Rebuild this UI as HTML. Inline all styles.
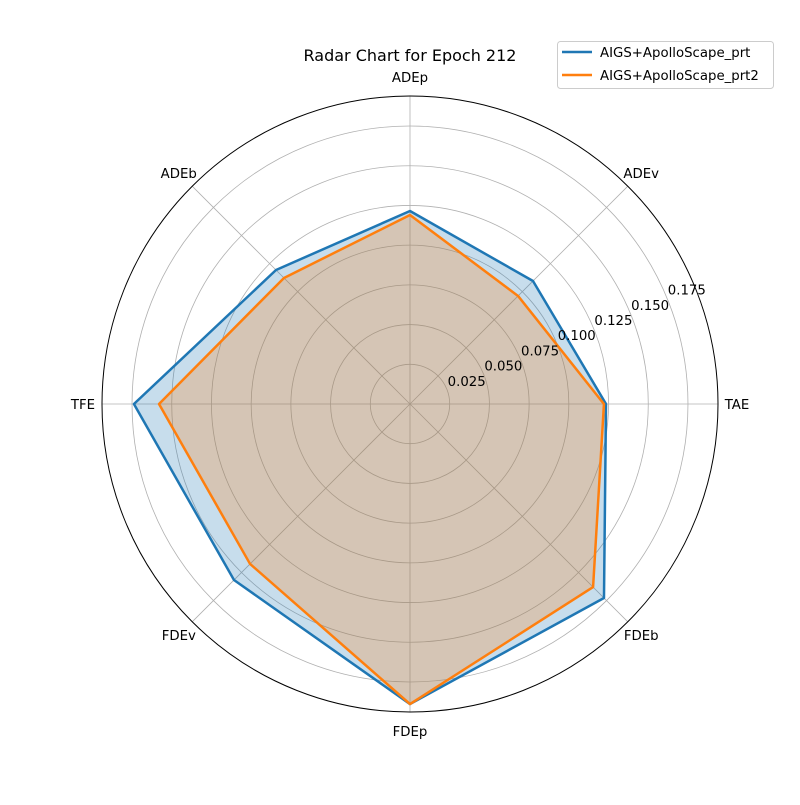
<!DOCTYPE html>
<html><head><meta charset="utf-8"><style>
body{margin:0;background:#fff}
svg{font-family:"DejaVu Sans","Liberation Sans",sans-serif}
</style></head><body>
<svg id="chart" width="800" height="800" viewBox="0 0 800 800" xmlns="http://www.w3.org/2000/svg">
<rect width="800" height="800" fill="#fff"/>
<text x="410" y="61" font-size="16" text-anchor="middle">Radar Chart for Epoch 212</text>
<g id="grid"></g>
<g id="series"></g>
<g id="labels"></g>
<g>
<rect x="557.5" y="41.5" width="216" height="47" rx="3" fill="#fff" stroke="#ccc"/>
<line x1="562" y1="52" x2="592" y2="52" stroke="#1f77b4" stroke-width="2.5"/>
<text x="600" y="57" font-size="13.3">AIGS+ApolloScape_prt</text>
<line x1="562" y1="75" x2="592" y2="75" stroke="#ff7f0e" stroke-width="2.5"/>
<text x="600" y="80" font-size="13.3">AIGS+ApolloScape_prt2</text>
</g>
</svg>
<script>
const categories=["ADEp","ADEv","TAE","FDEb","FDEp","FDEv","TFE","ADEb"];
const seriesPrt=[0.1215,0.1095,0.1234,0.1727,0.1889,0.1567,0.1738,0.1193];
const seriesPrt2=[0.119,0.0962,0.1221,0.163,0.1889,0.1424,0.158,0.1122];
const tickValues=[0.025,0.05,0.075,0.1,0.125,0.15,0.175];
const tickLabels=["0.025","0.050","0.075","0.100","0.125","0.150","0.175"];
const cx=410,cy=404,R=308,rmax=0.1939;
const NS="http://www.w3.org/2000/svg";
function r(v){return v/rmax*R;}
function ang(i){return Math.PI/2-i*2*Math.PI/categories.length;}
function pt(i,v){const a=ang(i);return [cx+r(v)*Math.cos(a),cy-r(v)*Math.sin(a)];}
function mk(t,at,p){const e=document.createElementNS(NS,t);for(const k in at)e.setAttribute(k,at[k]);p.appendChild(e);return e;}
const grid=document.getElementById('grid'),ser=document.getElementById('series'),lab=document.getElementById('labels');
tickValues.forEach((v,i)=>{
 const c=mk('circle',{cx:cx,cy:cy,r:r(v),fill:'none',stroke:'#b0b0b0','stroke-width':0.8},grid);
 
 
 const a=22.5*Math.PI/180;
 const t=mk('text',{x:cx+r(v)*Math.cos(a)+20,y:cy-r(v)*Math.sin(a)-8+5,'font-size':13.3,'text-anchor':'middle'},lab);
 t.textContent=tickLabels[i];
 
 
});
categories.forEach((c,i)=>{
 const p=pt(i,rmax);
 const l=mk('line',{x1:cx,y1:cy,x2:p[0],y2:p[1],stroke:'#b0b0b0','stroke-width':0.8},grid);
 
 
 const a=ang(i),lr=R+19;
 const t=mk('text',{x:cx+lr*Math.cos(a),y:cy-lr*Math.sin(a)+5,'font-size':13.3,'text-anchor':'middle'},lab);
 t.textContent=c;
 
 
});
const outer=mk('circle',{cx:cx,cy:cy,r:R,fill:'none',stroke:'#000','stroke-width':1},grid);


function draw(vals,color,name){
 const pts=vals.map((v,i)=>pt(i,v).join(',')).join(' ');
 const f=mk('polygon',{points:pts,fill:color,'fill-opacity':0.25,stroke:'none'},ser);
 
 
 const l=mk('polygon',{points:pts,fill:'none',stroke:color,'stroke-width':2.5,'stroke-linejoin':'round'},ser);
 
 
}
draw(seriesPrt,'#1f77b4','series-prt');
draw(seriesPrt2,'#ff7f0e','series-prt2');
</script>
</body></html>
